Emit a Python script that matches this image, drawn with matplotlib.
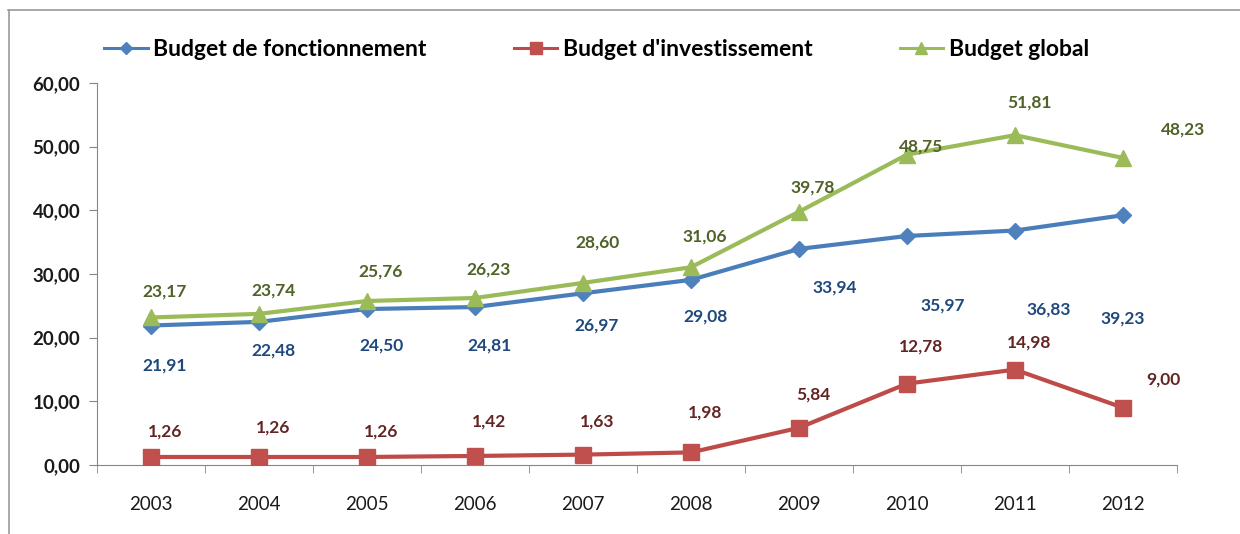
import matplotlib.pyplot as plt
import numpy as np
from matplotlib.lines import Line2D

years = ["2003", "2004", "2005", "2006", "2007", "2008", "2009", "2010", "2011", "2012"]
fonctionnement = [21.91, 22.48, 24.50, 24.81, 26.97, 29.08, 33.94, 35.97, 36.83, 39.23]
investissement = [1.26, 1.26, 1.26, 1.42, 1.63, 1.98, 5.84, 12.78, 14.98, 9.00]
global_budget = [23.17, 23.74, 25.76, 26.23, 28.60, 31.06, 39.78, 48.75, 51.81, 48.23]

# label offsets in pixels (dx, dy), screen up positive
off_fonc = [(14, -40), (14, -29), (14, -36), (14, -38), (14, -32), (14, -37), (36, -39), (36, -70), (34, -79), (0, -103)]
off_inv = [(14, 25), (14, 29), (14, 25), (14, 34), (14, 33), (14, 40), (14, 33), (14, 37), (14, 27), (40, 28)]
off_glob = [(14, 26), (14, 23), (14, 29), (14, 28), (14, 40), (14, 31), (14, 24), (14, 8), (14, 33), (60, 28)]

font = ['Lato', 'DejaVu Sans']
plt.rcParams['font.family'] = font

fig = plt.figure(figsize=(12.4, 5.34), dpi=100)
ax = fig.add_axes([97/1240, 69/534, 1080/1240, 382/534])

x = np.arange(len(years))
series = [
    (fonctionnement, "Budget de fonctionnement", "#4A7EBB", "#4F81BD", "D", 8, "#1F497D", off_fonc),
    (investissement, "Budget d'investissement", "#BE4B48", "#C0504D", "s", 11, "#632523", off_inv),
    (global_budget, "Budget global", "#9BBB59", "#9BBB59", "^", 11, "#4F6228", off_glob),
]
handles = []
for vals, name, lc, mc, mk, ms, tc, offs in series:
    ax.plot(x, vals, color=lc, lw=3, marker=mk, ms=ms, mfc=mc, mec=mc, zorder=3)
    handles.append(Line2D([0], [0], color=lc, lw=2.2, marker=mk, ms=ms*0.8, mfc=mc, mec=mc))
    for xi, v, (dx, dy) in zip(x, vals, offs):
        ax.annotate(f"{v:.2f}".replace(".", ","), (xi, v), xytext=(dx, dy),
                    textcoords='offset pixels', ha='center', va='center',
                    fontsize=12.5, fontweight='bold', color=tc)

ax.set_xlim(-0.5, 9.5)
ax.set_ylim(0, 60)
ax.set_yticks(np.arange(0, 61, 10))
ax.set_yticklabels([f"{v:.2f}".replace(".", ",") for v in np.arange(0, 61, 10)],
                   fontsize=13.5, fontweight='bold', color="#1a1a1a")
ax.set_xticks(x)
ax.set_xticklabels(years, fontsize=13.5, color="#1a1a1a")
ax.set_xticks(np.arange(-0.5, 10, 1), minor=True)
ax.tick_params(axis='x', which='major', length=0, pad=22)
ax.tick_params(axis='x', which='minor', length=6, color="#868686", direction='out')
ax.tick_params(axis='y', length=6, color="#868686", pad=6)
for s in ['top', 'right']:
    ax.spines[s].set_visible(False)
for s in ['left', 'bottom']:
    ax.spines[s].set_color("#868686")

fig.legend(handles, [s[1] for s in series], loc='center left', bbox_to_anchor=(104/1240, 1 - 50/534),
           ncol=3, frameon=False, borderaxespad=0, borderpad=0,
           handlelength=1.9, handletextpad=0.25, columnspacing=3.8,
           prop={'family': font, 'weight': 'bold', 'size': 16.5})

fig.add_artist(Line2D([8/1240, 1.0], [1 - 10/534, 1 - 10/534], color="#9a9a9a", lw=1.2))
fig.add_artist(Line2D([9/1240, 9/1240], [0, 1 - 10/534], color="#9a9a9a", lw=1.2))

fig.savefig("out.png", dpi=100)
